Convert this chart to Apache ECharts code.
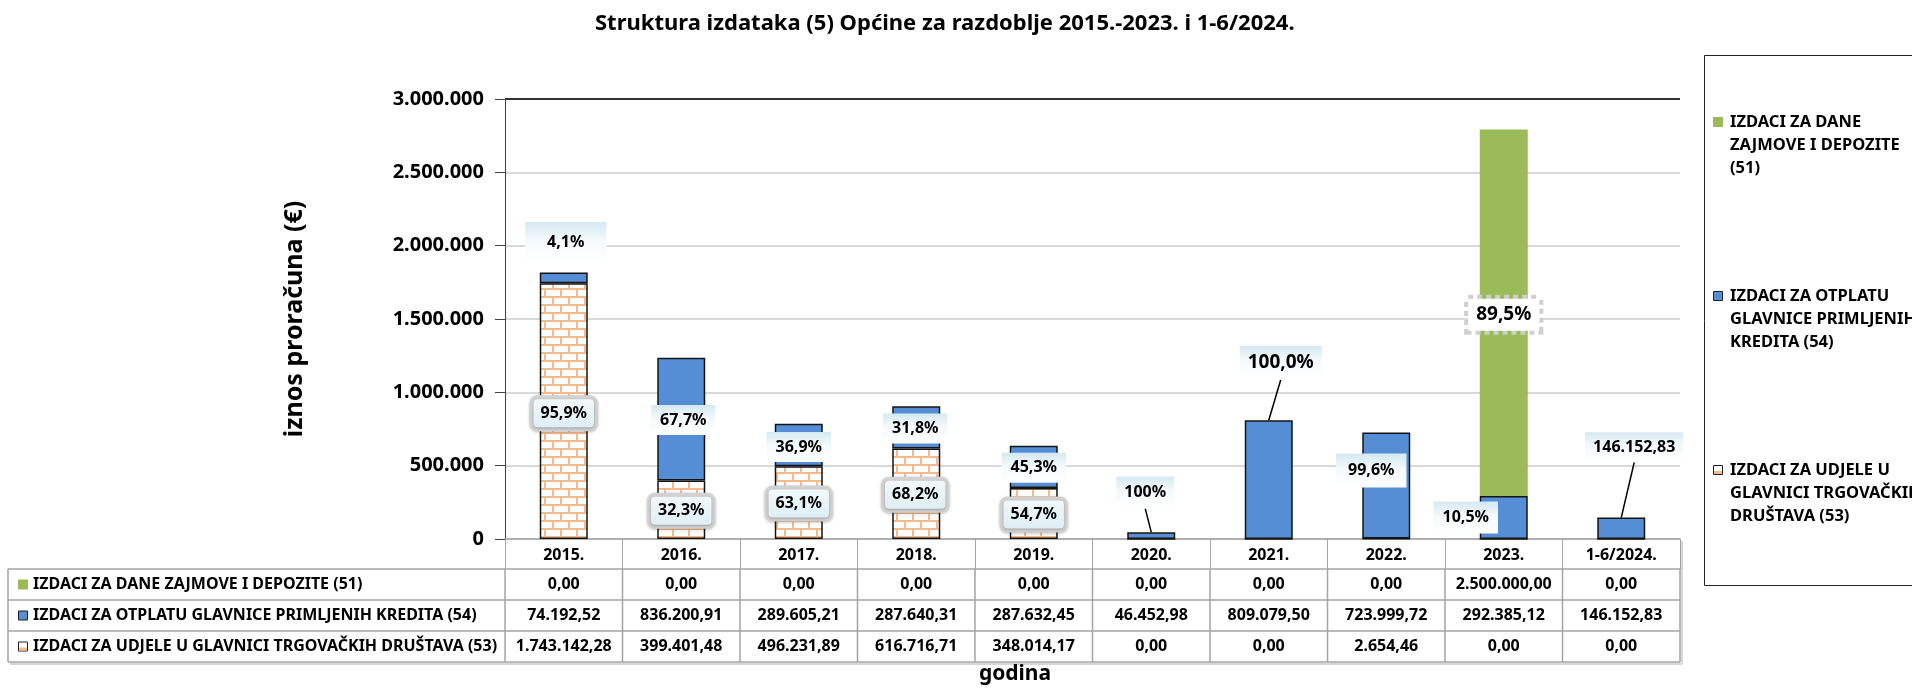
<!DOCTYPE html>
<html>
<head>
<meta charset="utf-8">
<script src="https://cdn.jsdelivr.net/npm/echarts@6/dist/echarts.min.js"></script>
<style>
  html, body { margin: 0; padding: 0; background: #fff; }
  #chart { width: 1912px; height: 688px; }
</style>
</head>
<body>
<div id="chart"></div>
<script>
// podaci
var godine = ['2015.', '2016.', '2017.', '2018.', '2019.', '2020.', '2021.', '2022.', '2023.', '1-6/2024.'];
var dane51 = [0, 0, 0, 0, 0, 0, 0, 0, 2500000, 0];
var otplata54 = [74192.52, 836200.91, 289605.21, 287640.31, 287632.45, 46452.98, 809079.50, 723999.72, 292385.12, 146152.83];
var udjele53 = [1743142.28, 399401.48, 496231.89, 616716.71, 348014.17, 0, 0, 2654.46, 0, 0];
// oznake na stupcima
var postoDane = ['', '', '', '', '', '', '', '', '89,5%', ''];
var postoOtplata = ['4,1%', '67,7%', '36,9%', '31,8%', '45,3%', '100%', '100,0%', '99,6%', '10,5%', '146.152,83'];
var postoUdjele = ['95,9%', '32,3%', '63,1%', '68,2%', '54,7%', '', '', '', '', ''];
var nazivi = [
  'IZDACI ZA DANE ZAJMOVE I DEPOZITE (51)',
  'IZDACI ZA OTPLATU GLAVNICE PRIMLJENIH KREDITA (54)',
  'IZDACI ZA UDJELE U GLAVNICI TRGOVAČKIH DRUŠTAVA (53)'
];
var legendaRedovi = [
  ['IZDACI ZA DANE', 'ZAJMOVE I DEPOZITE', '(51)'],
  ['IZDACI ZA OTPLATU', 'GLAVNICE PRIMLJENIH', 'KREDITA (54)'],
  ['IZDACI ZA UDJELE U', 'GLAVNICI TRGOVAČKIH', 'DRUŠTAVA (53)']
];

// pomaci oznaka (dx, dy od sredine stupca) i razmaci
var pomakOtplata = [[2, -35], [2, 1], [0, 2], [-1, 1], [0, 1], [-6, -43], [12, -117], [-15, -15], [-38, 0], [13, -81]];
var padOtplata = [[12, 22], [6, 9], [6, 9], [6, 9], [6, 9], [7, 8], [6, 8], [8, 12], [7, 9], [6, 8]];
var crtaOtplata = [false, false, false, false, false, true, true, false, false, true];
var pomakUdjele = [[0, 2], [0, 1], [0, 1], [-1, 1], [0, 1], [0, 0], [0, 0], [0, 0], [0, 0], [0, 0]];

var FONT = '"Noto Sans", sans-serif';
var PLAVA = '#558ED5';
var ZELENA = '#9BBB59';
var NARANCA = '#F8BA8A';
var SIVA = '#A3A3A3';

function broj(v, dec) {
  var s = v.toFixed(dec).split('.');
  var cijeli = s[0].replace(/\B(?=(\d{3})+(?!\d))/g, '.');
  return s.length > 1 ? cijeli + ',' + s[1] : cijeli;
}

// uzorak cigle za udjele
function cigla() {
  var c = document.createElement('canvas');
  c.width = 32; c.height = 16;
  var g = c.getContext('2d');
  g.fillStyle = '#fff';
  g.fillRect(0, 0, 32, 16);
  g.strokeStyle = NARANCA;
  g.lineWidth = 2;
  g.beginPath();
  g.moveTo(0, 1); g.lineTo(32, 1);
  g.moveTo(0, 9); g.lineTo(32, 9);
  g.moveTo(1, 1); g.lineTo(1, 9);
  g.moveTo(17, 1); g.lineTo(17, 9);
  g.moveTo(9, 9); g.lineTo(9, 16);
  g.moveTo(25, 9); g.lineTo(25, 16);
  g.stroke();
  return c;
}

function gradijent(a, b, c) {
  return new echarts.graphic.LinearGradient(0, 0, 0, 1, [
    { offset: 0, color: a }, { offset: 0.45, color: b }, { offset: 1, color: c }
  ]);
}

var oznakaTekst = { fontFamily: FONT, fontWeight: 'bold', fontSize: 16, lineHeight: 18, color: '#000' };

var chart = echarts.init(document.getElementById('chart'));

var option = {
  animation: false,
  backgroundColor: '#fff',
  title: {
    text: 'Struktura izdataka (5) Općine za razdoblje 2015.-2023. i 1-6/2024.',
    left: 590,
    top: 8,
    textStyle: { fontFamily: FONT, fontWeight: 'bold', fontSize: 22, color: '#000' }
  },
  grid: { left: 505, right: 232, top: 99, bottom: 149 },
  xAxis: {
    type: 'category',
    data: godine,
    axisLine: { lineStyle: { color: SIVA, width: 1.5 } },
    axisTick: { show: true, length: 30, interval: 0, lineStyle: { color: SIVA } },
    axisLabel: { margin: 8, fontFamily: FONT, fontWeight: 'bold', fontSize: 16, color: '#000' }
  },
  yAxis: {
    type: 'value',
    min: 0,
    max: 3000000,
    interval: 500000,
    name: 'iznos proračuna (€)',
    nameLocation: 'middle',
    nameRotate: 90,
    nameGap: 198,
    nameTextStyle: { fontFamily: FONT, fontWeight: 'bold', fontSize: 25, color: '#000' },
    axisLine: { show: true, lineStyle: { color: '#404040', width: 1 } },
    axisTick: { show: true, length: 10, lineStyle: { color: '#404040' } },
    axisLabel: {
      margin: 21, fontFamily: FONT, fontWeight: 'bold', fontSize: 20, color: '#000',
      formatter: function (v) { return broj(v, 0); }
    },
    splitLine: {
      lineStyle: { color: ['#D9D9D9', '#D9D9D9', '#D9D9D9', '#D9D9D9', '#D9D9D9', '#D9D9D9', '#333333'], width: 2 }
    }
  },
  series: [
    {
      name: nazivi[2],
      type: 'bar',
      stack: 'ukupno',
      barWidth: 48,
      data: udjele53.map(function (v, i) {
        return { value: v, label: { show: postoUdjele[i] !== '' } };
      }),
      itemStyle: { color: { image: cigla(), repeat: 'repeat' }, borderColor: '#141414', borderWidth: 1.5 },
      label: Object.assign({
        position: 'inside',
        formatter: function (p) { return postoUdjele[p.dataIndex]; },
        backgroundColor: gradijent('#F3F9FB', '#E9F4F8', '#DCEDF3'),
        borderColor: '#D2D2D2', borderWidth: 4, borderRadius: 4,
        padding: [5, 7],
        shadowColor: 'rgba(0,0,0,0.25)', shadowBlur: 3, shadowOffsetY: 1
      }, oznakaTekst),
      labelLayout: function (p) {
        return { dx: pomakUdjele[p.dataIndex][0], dy: pomakUdjele[p.dataIndex][1] };
      }
    },
    {
      name: nazivi[1],
      type: 'bar',
      stack: 'ukupno',
      barWidth: 48,
      data: otplata54.map(function (v, i) {
        var d = { value: v, label: { show: postoOtplata[i] !== '', padding: padOtplata[i] } };
        if (i === 6) { d.label.fontSize = 19; d.label.lineHeight = 22; }
        return d;
      }),
      itemStyle: { color: PLAVA, borderColor: '#141414', borderWidth: 1.5 },
      label: Object.assign({
        position: 'inside',
        formatter: function (p) { return postoOtplata[p.dataIndex]; },
        backgroundColor: gradijent('#D4E9F1', '#F4FAFC', '#FFFFFF')
      }, oznakaTekst),
      labelLayout: function (p) {
        return { dx: pomakOtplata[p.dataIndex][0], dy: pomakOtplata[p.dataIndex][1] };
      }
    },
    {
      name: nazivi[0],
      type: 'bar',
      stack: 'ukupno',
      barWidth: 48,
      data: dane51.map(function (v, i) {
        return { value: v, label: { show: postoDane[i] !== '' } };
      }),
      itemStyle: { color: ZELENA },
      label: Object.assign({
        position: 'inside',
        formatter: function (p) { return postoDane[p.dataIndex]; },
        backgroundColor: '#fff',
        borderColor: '#CFCFCF', borderWidth: 4, borderType: [5, 4],
        padding: [5, 8]
      }, oznakaTekst, { fontSize: 19, lineHeight: 22 }),
      labelLayout: function () { return { dy: 2 }; }
    }
  ]
};

chart.setOption(option);

// tablica podataka i legenda
function oznacnik(x, yc, i) {
  var el = [];
  if (i === 0) {
    el.push({ type: 'rect', shape: { x: x, y: yc - 5, width: 10, height: 10 }, style: { fill: ZELENA } });
  } else if (i === 1) {
    el.push({ type: 'rect', shape: { x: x + 0.5, y: yc - 4.5, width: 9, height: 9 }, style: { fill: PLAVA, stroke: '#222', lineWidth: 1 } });
  } else {
    el.push({ type: 'rect', shape: { x: x + 0.5, y: yc - 4.5, width: 9, height: 9 }, style: { fill: '#fff', stroke: '#222', lineWidth: 1 } });
    el.push({ type: 'rect', shape: { x: x + 1, y: yc + 1, width: 8, height: 3 }, style: { fill: NARANCA } });
  }
  return el;
}

function tekst(t, x, y, align, size) {
  return {
    type: 'text',
    style: {
      text: t, x: x, y: y, fill: '#000',
      font: 'bold ' + (size || 16) + 'px ' + FONT,
      textAlign: align, textVerticalAlign: 'middle',
      align: align, verticalAlign: 'middle'
    }
  };
}

function crta(x1, y1, x2, y2, boja, w) {
  return { type: 'line', shape: { x1: x1, y1: y1, x2: x2, y2: y2 }, style: { stroke: boja, lineWidth: w } };
}

var c0 = chart.convertToPixel({ xAxisIndex: 0 }, godine[0]);
var c1 = chart.convertToPixel({ xAxisIndex: 0 }, godine[1]);
var pola = (c1 - c0) / 2;
var nula = chart.convertToPixel({ yAxisIndex: 0 }, 0);
var lijevo = 8;
var desno = chart.convertToPixel({ xAxisIndex: 0 }, godine[godine.length - 1]) + pola;
var vrh = nula + 30;
var redH = 31;
var redovi = [dane51, otplata54, udjele53];

var g = [];
// sjena tablice
g.push(crta(lijevo + 2, vrh + 3 * redH + 2, desno + 2, vrh + 3 * redH + 2, '#D6D6D6', 2));
g.push(crta(desno + 2, nula + 2, desno + 2, vrh + 3 * redH + 2, '#D6D6D6', 2));
for (var r = 0; r <= 3; r++) {
  g.push(crta(lijevo, vrh + r * redH, desno, vrh + r * redH, SIVA, 1.5));
}
g.push(crta(lijevo, vrh, lijevo, vrh + 3 * redH, SIVA, 1.5));
for (var k = 0; k <= godine.length; k++) {
  var xb = c0 - pola + k * 2 * pola;
  g.push(crta(xb, vrh, xb, vrh + 3 * redH, SIVA, 1.5));
}
redovi.forEach(function (niz, r) {
  var yc = vrh + r * redH + redH / 2;
  g = g.concat(oznacnik(lijevo + 10, yc, r));
  g.push(tekst(nazivi[r], lijevo + 25, yc, 'left'));
  niz.forEach(function (v, i) {
    var xc = chart.convertToPixel({ xAxisIndex: 0 }, godine[i]);
    g.push(tekst(broj(v, 2), xc, yc, 'center'));
  });
});
g.push(tekst('godina', 1015, 674, 'center', 21));

// linije od oznaka do stupaca
otplata54.forEach(function (v, i) {
  if (!crtaOtplata[i]) return;
  var vrhStupca = chart.convertToPixel({ seriesIndex: 1 }, [i, udjele53[i] + v]);
  var sredina = chart.convertToPixel({ seriesIndex: 1 }, [i, udjele53[i] + v / 2]);
  var visina = (i === 6 ? 22 : 18) + 2 * padOtplata[i][0];
  var lx = sredina[0] + pomakOtplata[i][0];
  var ly = sredina[1] + pomakOtplata[i][1] + visina / 2;
  g.push(crta(lx, ly, vrhStupca[0], vrhStupca[1], '#000', 1.5));
});

// legenda
g.push({ type: 'rect', shape: { x: 1704.5, y: 55.5, width: 240, height: 530 }, style: { fill: 'none', stroke: '#222', lineWidth: 1 } });
var legY = [122, 296, 470];
legendaRedovi.forEach(function (linije, i) {
  g = g.concat(oznacnik(1713, legY[i], i));
  linije.forEach(function (t, j) {
    g.push(tekst(t, 1730, legY[i] + j * 23, 'left', 16.5));
  });
});

chart.setOption({ graphic: g });
</script>
</body>
</html>
